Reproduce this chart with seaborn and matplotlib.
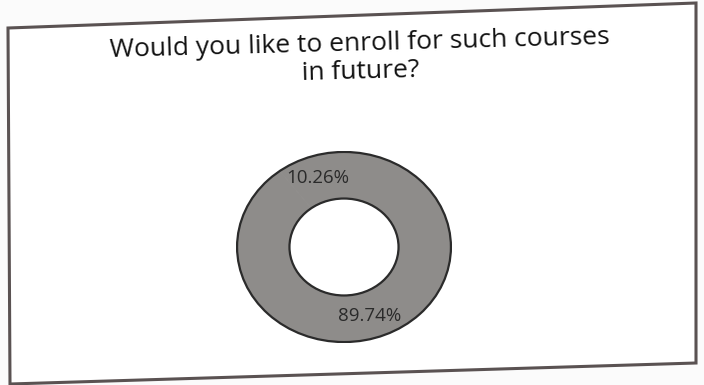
import numpy as np
import pandas as pd
import seaborn as sns
import matplotlib.pyplot as plt
from matplotlib.patches import Polygon

# survey answers (Excel order: starts at 12 o'clock, clockwise)
answers = ['Yes', 'No']
shares = [89.74, 10.26]
title = 'Would you like to enroll for such courses\nin future?'

sns.set_theme(style='white')
plt.rcParams['font.family'] = ['Open Sans', 'DejaVu Sans']

W, H = 704, 385
fig = plt.figure(figsize=(W / 100, H / 100), dpi=100)
fig.patch.set_facecolor('#fbfbfb')

# chart frame, slightly skewed like the scan
frame = Polygon([(8 / W, 1 - 28 / H), (696 / W, 1 - 3 / H),
                 (696 / W, 1 - 363 / H), (10 / W, 1 - 384 / H)],
                closed=True, transform=fig.transFigure, zorder=-1,
                facecolor='white', edgecolor='#5a5252', linewidth=2.2)
fig.patches.append(frame)

fig.text(0.512, 1 - 58 / H, title, ha='center', va='center',
         fontsize=19, color='#111111', linespacing=1.15, rotation=1.5)

# donut (scan is slightly stretched horizontally)
cx, cy, rx, ry = 344, 247, 108, 96
ax = fig.add_axes([(cx - rx) / W, 1 - (cy + ry) / H, 2 * rx / W, 2 * ry / H])
ax.set_zorder(2)
ax.patch.set_alpha(0)
gray = sns.color_palette(['#8e8c8a'])[0]
wedges, texts, autotexts = ax.pie(
    shares, labels=None, colors=[gray, gray], startangle=90, counterclock=False,
    autopct='%.2f%%', pctdistance=0.76,
    wedgeprops=dict(width=0.49, edgecolor='#8e8c8a', linewidth=0.5),
    textprops=dict(fontsize=13.5, color='#2a2a2a'))
# dark outline on outer and inner rims
for rad in (1.0, 0.51):
    ax.add_patch(plt.Circle((0, 0), rad, fill=False, edgecolor='#2b2b2b', linewidth=1.6))
ax.set_xlim(-1.01, 1.01)
ax.set_ylim(-1.01, 1.01)
ax.set_aspect('auto')
ax.axis('off')

fig.savefig('out.png', dpi=100, facecolor=fig.get_facecolor())
